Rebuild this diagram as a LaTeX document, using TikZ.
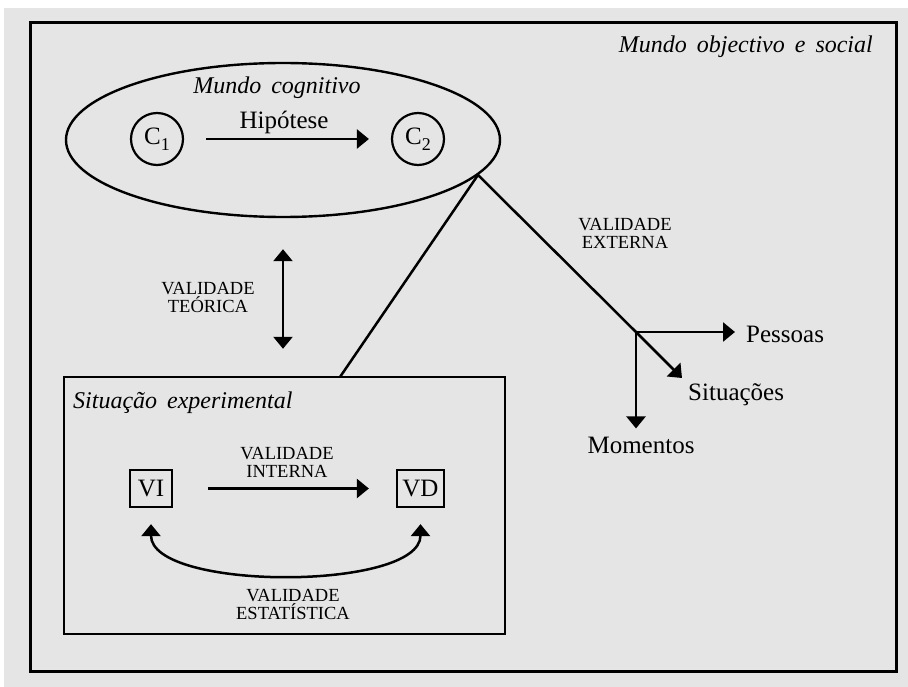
\documentclass[tikz,border=0pt]{standalone}
\usepackage{fontspec}
\setmainfont{Liberation Serif}
\usetikzlibrary{arrows.meta,shapes.geometric}
\definecolor{panel}{HTML}{E5E5E5}
\begin{document}
\begin{tikzpicture}[x=1pt,y=-1pt,
  line/.style={line width=2.5pt},
  tip/.style={-{Triangle[length=12pt,width=19pt]}},
  dtip/.style={{Triangle[length=12pt,width=19pt]}-{Triangle[length=12pt,width=19pt]}},
  big/.style={font=\fontsize{25}{26}\selectfont, inner sep=0pt},
  caps/.style={font=\fontsize{18.5}{18}\selectfont, align=center, inner sep=0pt},
  world/.style={font=\fontsize{24}{26}\selectfont\itshape, inner sep=0pt},
  concept/.style={circle, draw, line width=2.2pt, minimum size=52pt, inner sep=0pt,
    font=\fontsize{25}{26}\selectfont},
  varbox/.style={draw, line width=2.3pt, minimum height=37pt, inner sep=0pt,
    font=\fontsize{25}{26}\selectfont}]
\useasboundingbox (0,0) rectangle (908,687);
\fill[white] (0,0) rectangle (908,687);
\fill[panel] (4,8) rectangle (908,687);

% outer world frame
\node[draw, line width=3pt, minimum width=866.5pt, minimum height=648pt, inner sep=0pt]
  (obj) at (463.25,347) {};
\node[world, anchor=base east] (objlab) at (873,53) {Mundo\, objectivo\, e\, social};

% cognitive world
\node[ellipse, draw, line width=2.4pt, minimum width=434pt, minimum height=154pt, inner sep=0pt]
  (cog) at (283,140) {};
\node[world, anchor=base] (coglab) at (277,94) {Mundo\, cognitivo};
\node[concept] (c1) at (157,139) {C\raisebox{-0.55ex}{\fontsize{18}{18}\selectfont 1}};
\node[concept] (c2) at (418,139) {C\raisebox{-0.55ex}{\fontsize{18}{18}\selectfont 2}};
\draw[line, tip, shorten <=22pt, shorten >=22pt] (c1) -- (c2);
\node[big, anchor=base] (hip) at (284,129) {Hipótese};

% experimental situation
\node[draw, line width=2.4pt, minimum width=441pt, minimum height=257pt, inner sep=0pt]
  (exp) at (284.5,505.5) {};
\node[world, anchor=base west] (explab) at (73,408) {Situação\, experimental};
\node[varbox, minimum width=42pt] (vi) at (151,488.5) {VI};
\node[varbox, minimum width=47pt] (vd) at (420.5,488.5) {VD};
\draw[line, tip, shorten <=35pt, shorten >=27pt] (vi) -- (vd);
\node[caps] (vint) at (287,462.5) {VALIDADE\\INTERNA};
\draw[line, dtip] ([yshift=-16pt]vi.south) .. controls +(0,67) and +(0,67) .. ([yshift=-16pt]vd.south);
\node[caps] (vest) at (293,604) {VALIDADE\\ESTATÍSTICA};

% theoretical validity
\draw[line, dtip, shorten <=31pt, shorten >=27pt] (cog.south) -- (cog.south |- exp.north);
\node[caps] (vteo) at (208,297) {VALIDADE\\TEÓRICA};

% external validity
\coordinate (j1) at (478,175);
\coordinate (j0) at (340,377);
\coordinate (j2) at (636,332);
\coordinate (sittip) at (682,378);
\draw[line] (j0) -- (j1) -- (j2);
\node[caps] (vext) at (625,233.5) {VALIDADE\\EXTERNA};
\node[big, anchor=base west] (pes) at (746,342) {Pessoas};
\node[big, anchor=base west] (sit) at (688,400) {Situações};
\node[big, anchor=base] (mom) at (641,453) {Momentos};
\draw[line, tip, shorten >=11pt] (j2) -- (pes.west |- j2);
\draw[line, tip] (j2) -- (sittip);
\draw[line, tip, shorten >=8pt] (j2) -- (j2 |- mom.north);
\end{tikzpicture}
\end{document}
